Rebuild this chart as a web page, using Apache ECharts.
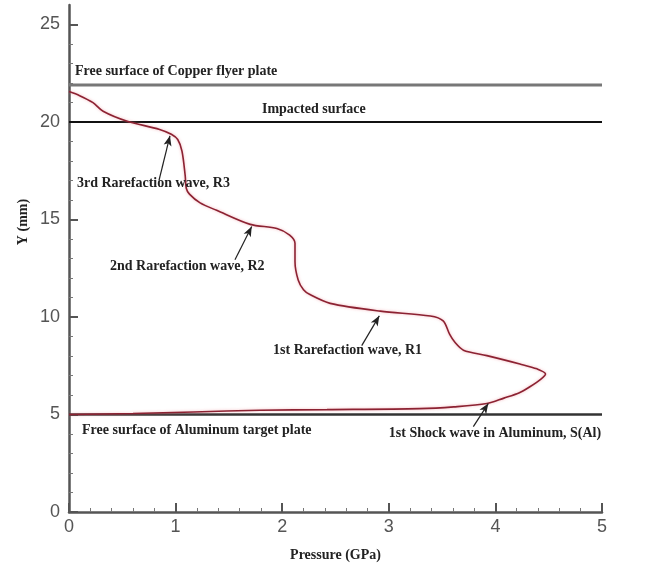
<!DOCTYPE html>
<html>
<head>
<meta charset="utf-8">
<script src="https://cdn.jsdelivr.net/npm/echarts@6/dist/echarts.min.js"></script>
<style>
  html, body { margin: 0; padding: 0; background: #fff; }
  #chart { width: 645px; height: 567px; }
</style>
</head>
<body>
<div id="chart"></div>
<script>
// Pressure profile through the flyer / target stack: [pressure GPa, Y mm]
const pressureProfile = [
  [0, 21.56], [0.1, 21.35], [0.225, 20.99], [0.32, 20.55], [0.54, 20.05],
  [0.85, 19.62], [0.96, 19.37], [1.02, 19.1], [1.06, 18.5], [1.09, 17.25],
  [1.1, 16.6], [1.13, 16.3], [1.23, 15.85], [1.385, 15.47], [1.7, 14.75],
  [1.95, 14.54], [2.07, 14.2], [2.12, 13.78], [2.12, 12.85], [2.15, 11.9],
  [2.2, 11.4], [2.26, 11.15], [2.45, 10.7], [2.92, 10.3], [3.39, 10.05],
  [3.51, 9.8], [3.57, 9.12], [3.62, 8.7], [3.7, 8.3], [3.92, 8.02],
  [4.23, 7.59], [4.39, 7.34], [4.47, 7.08], [4.43, 6.83], [4.32, 6.41],
  [4.22, 6.1], [4.08, 5.84], [3.92, 5.56], [3.61, 5.39], [3.29, 5.3],
  [2.42, 5.25], [1.79, 5.22], [1.17, 5.13], [0.6, 5.05], [0, 5.0]
];

// Interface positions (mm)
const copperFreeSurfaceY = 21.9;
const impactedSurfaceY = 20;
const aluminumFreeSurfaceY = 5;
const pressureRange = [0, 5];

// Tick labels
const xTicks = [0, 1, 2, 3, 4, 5];
const yTicks = [0, 5, 10, 15, 20, 25];

// Annotation texts, anchored at [pressure, Y] (left edge, vertical middle)
const notes = [
  { text: 'Free surface of Copper flyer plate', at: [0.056, 22.6] },
  { text: 'Impacted surface', at: [1.81, 20.66] },
  { text: '3rd Rarefaction wave, R3', at: [0.075, 16.85] },
  { text: '2nd Rarefaction wave, R2', at: [0.385, 12.62] },
  { text: '1st Rarefaction wave, R1', at: [1.914, 8.3] },
  { text: 'Free surface of Aluminum target plate', at: [0.122, 4.17] },
  { text: '1st Shock wave in Aluminum, S(Al)', at: [3.0, 4.02] }
];

// Arrows from label to wave front: [tail, tip]
const arrows = [
  [[0.844, 17.0], [0.947, 19.29]],
  [[1.557, 12.94], [1.714, 14.64]],
  [[2.746, 8.53], [2.911, 10.06]],
  [[3.793, 4.38], [3.933, 5.56]]
];

const serif = '"Liberation Serif", "DejaVu Serif", serif';
const sans = '"Liberation Sans", Arial, sans-serif';

function hLine(y) {
  return [[pressureRange[0], y], [pressureRange[1], y]];
}

const chart = echarts.init(document.getElementById('chart'));

const axisCommon = {
  axisLine: { show: true, onZero: false, lineStyle: { color: '#555', width: 2.5 } },
  axisTick: { show: true, inside: true, length: 9, lineStyle: { color: '#555', width: 2 } },
  minorTick: { show: true, splitNumber: 5, length: 4, lineStyle: { color: '#777', width: 1 } },
  splitLine: { show: false },
  axisLabel: { color: '#555', fontFamily: sans, fontSize: 18 }
};

chart.setOption({
  animation: false,
  backgroundColor: '#fff',
  grid: { left: 69, right: 43, top: 5, bottom: 51 },
  xAxis: Object.assign({}, axisCommon, {
    type: 'value',
    min: xTicks[0],
    max: xTicks[xTicks.length - 1],
    interval: 1,
    name: 'Pressure (GPa)',
    nameLocation: 'middle',
    nameGap: 36,
    nameTextStyle: { fontFamily: serif, fontWeight: 'bold', fontSize: 14, color: '#222' },
    axisLabel: Object.assign({}, axisCommon.axisLabel, { margin: 6 })
  }),
  yAxis: Object.assign({}, axisCommon, {
    type: 'value',
    min: yTicks[0],
    max: 26,
    interval: 5,
    axisTick: Object.assign({}, axisCommon.axisTick, { customValues: yTicks }),
    axisLabel: Object.assign({}, axisCommon.axisLabel, {
      margin: 9,
      customValues: yTicks
    })
  }),
  series: [
    {
      type: 'line', data: hLine(copperFreeSurfaceY), symbol: 'none',
      lineStyle: { color: '#777', width: 3 }, z: 2, silent: true
    },
    {
      type: 'line', data: hLine(impactedSurfaceY), symbol: 'none',
      lineStyle: { color: '#111', width: 2 }, z: 2, silent: true
    },
    {
      type: 'line', data: hLine(aluminumFreeSurfaceY), symbol: 'none',
      lineStyle: { color: '#333', width: 2.5 }, z: 2, silent: true
    },
    {
      type: 'line', data: pressureProfile, symbol: 'none', smooth: 0.3,
      lineStyle: {
        color: '#8c2232', width: 1.6,
        shadowColor: 'rgba(235,130,140,0.6)', shadowBlur: 3
      },
      z: 3, silent: true,
      markLine: {
        silent: true,
        symbol: ['none', 'arrow'],
        symbolSize: [6, 10],
        label: { show: false },
        lineStyle: { color: '#222', width: 1.2, type: 'solid' },
        data: arrows.map(a => [{ coord: a[0] }, { coord: a[1] }])
      }
    }
  ]
});

// Place annotation texts from their data anchors
const graphics = notes.map(n => {
  const p = chart.convertToPixel({ gridIndex: 0 }, n.at);
  return {
    type: 'text', x: p[0], y: p[1], z: 10,
    style: {
      text: n.text, fill: '#222', font: 'bold 14px ' + serif,
      textVerticalAlign: 'middle', textAlign: 'left'
    }
  };
});
graphics.push({
  type: 'text', x: 23, y: 222, rotation: Math.PI / 2, z: 10,
  style: {
    text: 'Y (mm)', fill: '#222', font: 'bold 14px ' + serif,
    textAlign: 'center', textVerticalAlign: 'middle'
  }
});
chart.setOption({ graphic: graphics });
</script>
</body>
</html>
